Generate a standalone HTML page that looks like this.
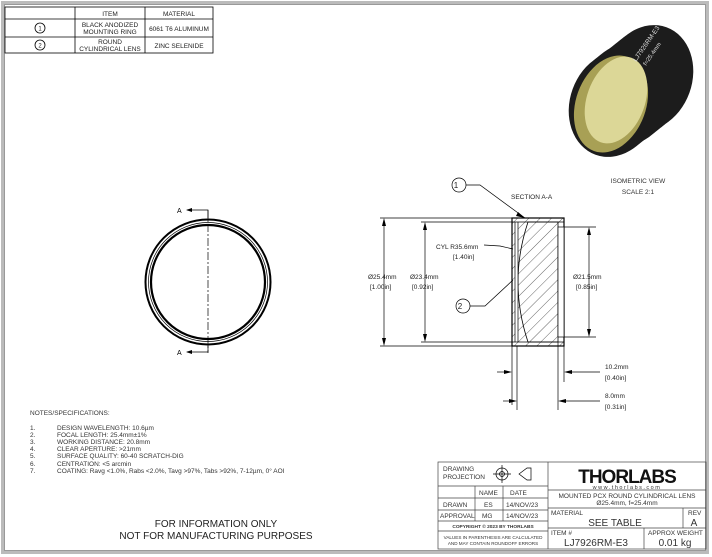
<!DOCTYPE html>
<html><head><meta charset="utf-8"><style>
body{margin:0;background:#fff;}
svg{display:block;font-family:"Liberation Sans",sans-serif;}
</style></head><body>
<svg width="712" height="557" viewBox="0 0 712 557" xmlns="http://www.w3.org/2000/svg">
<rect x="0" y="0" width="712" height="557" fill="#fff"/>
<rect x="2.5" y="2.5" width="705" height="550" fill="none" stroke="#bbb" stroke-width="3"/>
<rect x="4.5" y="4.5" width="701" height="546" fill="none" stroke="#999" stroke-width="1"/>

<!-- parts table -->
<g stroke="#000" stroke-width="0.8" fill="none">
<rect x="5" y="7" width="208" height="46"/>
<line x1="75" y1="7" x2="75" y2="53"/><line x1="145" y1="7" x2="145" y2="53"/>
<line x1="5" y1="19" x2="213" y2="19"/><line x1="5" y1="37" x2="213" y2="37"/>
<circle cx="40" cy="28" r="5"/><circle cx="40" cy="45" r="5"/>
</g>
<g font-size="6.5" fill="#222" text-anchor="middle">
<text x="110" y="16">ITEM</text><text x="179" y="16">MATERIAL</text>
<text x="110" y="27">BLACK ANODIZED</text><text x="110" y="34">MOUNTING RING</text>
<text x="179" y="31">6061 T6 ALUMINUM</text>
<text x="110" y="44">ROUND</text><text x="110" y="51">CYLINDRICAL LENS</text>
<text x="179" y="48">ZINC SELENIDE</text>
<text x="40" y="30.5" font-size="6">1</text><text x="40" y="47.5" font-size="6">2</text>
</g>

<!-- isometric -->
<g fill="#1c1c1c">
<ellipse cx="614" cy="104" rx="44" ry="54" transform="rotate(20 614 104)"/>
<ellipse cx="619" cy="100" rx="44" ry="54" transform="rotate(20 619 100)"/>
<ellipse cx="624" cy="96" rx="44" ry="54" transform="rotate(20 624 96)"/>
<ellipse cx="629" cy="93" rx="44" ry="54" transform="rotate(20 629 93)"/>
<ellipse cx="634" cy="89" rx="44" ry="54" transform="rotate(20 634 89)"/>
<ellipse cx="639" cy="85" rx="44" ry="54" transform="rotate(20 639 85)"/>
<ellipse cx="644" cy="81" rx="44" ry="54" transform="rotate(20 644 81)"/>
<ellipse cx="648" cy="78" rx="44" ry="54" transform="rotate(20 648 78)"/>
</g>
<ellipse cx="611" cy="104" rx="35" ry="50" transform="rotate(20 611 104)" fill="#a8a055"/>
<ellipse cx="616" cy="100" rx="29" ry="45" transform="rotate(20 616 100)" fill="#dcd797"/>
<text x="636" y="62" font-size="6.5" fill="#ddd" transform="rotate(-55 636 62)">LJ7926RM-E3</text>
<text x="646" y="66" font-size="6" fill="#ddd" transform="rotate(-55 646 66)">f=25.4mm</text>
<g font-size="6.5" fill="#333" text-anchor="middle"><text x="638" y="183">ISOMETRIC VIEW</text><text x="638" y="194">SCALE 2:1</text></g>

<!-- front view -->
<circle cx="208" cy="282" r="62.5" fill="none" stroke="#000" stroke-width="2"/>
<circle cx="208" cy="282" r="59.5" fill="none" stroke="#000" stroke-width="0.7"/>
<circle cx="208" cy="282" r="57" fill="none" stroke="#000" stroke-width="2.2"/>
<g stroke="#000" stroke-width="0.7" fill="none">
<line x1="208" y1="210" x2="208" y2="353" stroke-dasharray="8,2,2,2"/>
<polyline points="187,210 208,210 208,220"/><polyline points="187,352 208,352 208,345"/>
</g>
<polygon points="186,210 192,208 192,212" fill="#000"/><polygon points="186,352 192,350 192,354" fill="#000"/>
<text x="177" y="213" font-size="7">A</text><text x="177" y="355" font-size="7">A</text>

<!-- section view -->
<defs><pattern id="h" width="8" height="8" patternUnits="userSpaceOnUse" patternTransform="rotate(45)"><line x1="0" y1="0" x2="0" y2="8" stroke="#000" stroke-width="0.6"/></pattern></defs>
<rect x="512" y="218" width="52" height="128" fill="url(#h)" stroke="#000" stroke-width="1.2"/>
<path d="M528 222 Q508 282 528 342 L558 342 L558 222 Z" fill="#fff"/>
<path d="M528 222 Q508 282 528 342 L558 342 L558 222 Z" fill="url(#h)" stroke="#000" stroke-width="0.8"/>
<rect x="515" y="222" width="3" height="120" fill="#fff"/>
<rect x="558" y="227" width="6" height="110" fill="#fff" stroke="#000" stroke-width="0.7"/>
<g stroke="#000" stroke-width="0.7" fill="none">
<line x1="512" y1="222" x2="564" y2="222"/><line x1="512" y1="342" x2="564" y2="342"/>
<line x1="515" y1="222" x2="515" y2="342"/><line x1="518" y1="222" x2="518" y2="342"/>
<line x1="380" y1="218" x2="512" y2="218"/><line x1="380" y1="346" x2="512" y2="346"/>
<line x1="384" y1="220" x2="384" y2="344"/>
<line x1="421" y1="222" x2="512" y2="222"/><line x1="421" y1="342" x2="512" y2="342"/>
<line x1="425" y1="224" x2="425" y2="340"/>
<line x1="564" y1="227" x2="596" y2="227"/><line x1="564" y1="337" x2="596" y2="337"/>
<line x1="589" y1="229" x2="589" y2="335"/>
<line x1="512" y1="346" x2="512" y2="405"/><line x1="564" y1="346" x2="564" y2="382"/>
<line x1="517" y1="346" x2="517" y2="410"/><line x1="558" y1="342" x2="558" y2="410"/>
<line x1="497" y1="372" x2="510" y2="372"/><line x1="566" y1="372" x2="600" y2="372"/>
<line x1="503" y1="401" x2="515" y2="401"/><line x1="560" y1="401" x2="600" y2="401"/>
<polyline points="466,185 480,185 525,218"/>
<polyline points="470,306 485,306 513,280"/>
<polyline points="484,245 500,246 513,249"/>
<circle cx="459" cy="185" r="7"/><circle cx="463" cy="306" r="7"/>
</g>
<g fill="#000">
<polygon points="384,218 382,226 386,226"/><polygon points="384,346 382,338 386,338"/>
<polygon points="425,222 423,230 427,230"/><polygon points="425,342 423,334 427,334"/>
<polygon points="589,227 587,235 591,235"/><polygon points="589,337 587,329 591,329"/>
<polygon points="512,372 504,370 504,374"/><polygon points="564,372 572,370 572,374"/>
<polygon points="517,401 509,399 509,403"/><polygon points="558,401 566,399 566,403"/>
<polygon points="525,218 518,212 516,216"/>
</g>
<g font-size="6.5" fill="#222">
<text x="456" y="188" text-anchor="middle" font-size="8">1</text>
<text x="460" y="309" text-anchor="middle" font-size="8">2</text>
<text x="511" y="199">SECTION A-A</text>
<text x="436" y="249">CYL R35.6mm</text><text x="453" y="259">[1.40in]</text>
<text x="368" y="279">Ø25.4mm</text><text x="370" y="289">[1.00in]</text>
<text x="410" y="279">Ø23.4mm</text><text x="412" y="289">[0.92in]</text>
<text x="573" y="279">Ø21.5mm</text><text x="576" y="289">[0.85in]</text>
<text x="605" y="369">10.2mm</text><text x="605" y="380">[0.40in]</text>
<text x="605" y="398">8.0mm</text><text x="605" y="409">[0.31in]</text>
</g>

<!-- notes -->
<g font-size="6.5" fill="#333">
<text x="30" y="415">NOTES/SPECIFICATIONS:</text>
<text x="30" y="430">1.</text><text x="57" y="430">DESIGN WAVELENGTH: 10.6µm</text>
<text x="30" y="437">2.</text><text x="57" y="437">FOCAL LENGTH: 25.4mm±1%</text>
<text x="30" y="444">3.</text><text x="57" y="444">WORKING DISTANCE: 20.8mm</text>
<text x="30" y="451">4.</text><text x="57" y="451">CLEAR APERTURE: &gt;21mm</text>
<text x="30" y="458">5.</text><text x="57" y="458">SURFACE QUALITY: 60-40 SCRATCH-DIG</text>
<text x="30" y="466">6.</text><text x="57" y="466">CENTRATION: &lt;5 arcmin</text>
<text x="30" y="473">7.</text><text x="57" y="473">COATING: Ravg &lt;1.0%, Rabs &lt;2.0%, Tavg &gt;97%, Tabs &gt;92%, 7-12µm, 0° AOI</text>
</g>
<g font-size="10" fill="#222" text-anchor="middle">
<text x="216" y="527">FOR INFORMATION ONLY</text>
<text x="216" y="539">NOT FOR MANUFACTURING PURPOSES</text>
</g>

<!-- title block -->
<g stroke="#444" stroke-width="0.7" fill="none">
<rect x="438" y="462" width="268" height="87"/>
<line x1="548" y1="462" x2="548" y2="549"/>
<line x1="438" y1="486" x2="548" y2="486"/><line x1="438" y1="498" x2="548" y2="498"/>
<line x1="438" y1="510" x2="548" y2="510"/><line x1="438" y1="521" x2="548" y2="521"/>
<line x1="438" y1="531" x2="548" y2="531"/>
<line x1="475" y1="486" x2="475" y2="521"/><line x1="503" y1="486" x2="503" y2="521"/>
<line x1="548" y1="490" x2="706" y2="490"/><line x1="548" y1="508" x2="706" y2="508"/>
<line x1="548" y1="528" x2="706" y2="528"/>
<line x1="683" y1="508" x2="683" y2="528"/><line x1="644" y1="528" x2="644" y2="549"/>
<circle cx="502" cy="474" r="6" stroke="#000"/><circle cx="502" cy="474" r="2.5" stroke="#000"/>
<line x1="493" y1="474" x2="511" y2="474" stroke="#000"/><line x1="502" y1="465" x2="502" y2="483" stroke="#000"/>
<path d="M519 474 L527 468 L531 468 L531 480 L527 480 Z" stroke="#000"/>
</g>
<g font-size="6.5" fill="#333">
<text x="443" y="471">DRAWING</text><text x="443" y="479">PROJECTION</text>
<text x="479" y="495">NAME</text><text x="510" y="495">DATE</text>
<text x="443" y="507">DRAWN</text><text x="484" y="507">ES</text><text x="506" y="507">14/NOV/23</text>
<text x="440" y="518">APPROVAL</text><text x="482" y="518">MG</text><text x="506" y="518">14/NOV/23</text>
<text x="493" y="528" font-size="4.8" text-anchor="middle" font-weight="bold">COPYRIGHT © 2023 BY THORLABS</text>
<text x="493" y="539" font-size="4.6" text-anchor="middle">VALUES IN PARENTHESIS ARE CALCULATED</text>
<text x="493" y="545" font-size="4.6" text-anchor="middle">AND MAY CONTAIN ROUNDOFF ERRORS</text>
<text x="627" y="483" font-size="19" font-weight="bold" fill="#111" text-anchor="middle" letter-spacing="-1">THORLABS</text>
<text x="627" y="489" font-size="5.5" text-anchor="middle" letter-spacing="1.5">www.thorlabs.com</text>
<text x="627" y="498" text-anchor="middle">MOUNTED PCX ROUND CYLINDRICAL LENS</text>
<text x="627" y="505" text-anchor="middle">Ø25.4mm, f=25.4mm</text>
<text x="551" y="515">MATERIAL</text>
<text x="615" y="526" font-size="10" text-anchor="middle">SEE TABLE</text>
<text x="688" y="515">REV</text><text x="694" y="526" font-size="10" text-anchor="middle">A</text>
<text x="551" y="535">ITEM #</text>
<text x="596" y="546" font-size="10" text-anchor="middle">LJ7926RM-E3</text>
<text x="648" y="535">APPROX WEIGHT</text>
<text x="675" y="546" font-size="10" text-anchor="middle">0.01 kg</text>
</g>
</svg>
</body></html>
